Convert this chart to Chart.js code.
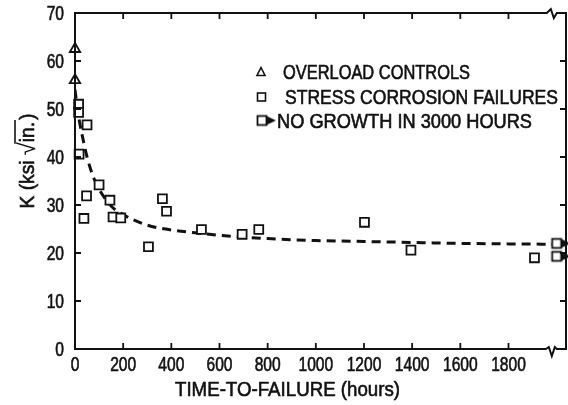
<!DOCTYPE html>
<html>
<head>
<meta charset="utf-8">
<script src="https://cdn.jsdelivr.net/npm/chart.js@4/dist/chart.umd.min.js"></script>
<style>
  html, body { margin: 0; padding: 0; background: #fff; }
  #wrap { width: 568px; height: 405px; }
</style>
</head>
<body>
<div id="wrap"><canvas id="c" width="568" height="405"></canvas></div>
<script>
const FONT = '"Liberation Sans", Arial, sans-serif';
const FONT_PX = 19.5;
const INK = '#111';

// Overload control specimens: time (h), K (ksi sqrt(in.))
const OVERLOAD_T = [0, 0];
const OVERLOAD_K = [62.5, 56];

// Stress corrosion failures
const FAIL_T = [15, 15, 17, 50, 37, 48, 100, 145, 158, 190, 305, 363, 380, 525, 694, 763, 1202, 1395, 1908];
const FAIL_K = [51, 49.3, 40.6, 46.7, 27.2, 31.9, 34.2, 31.0, 27.5, 27.3, 21.3, 31.3, 28.7, 24.9, 23.9, 24.9, 26.4, 20.6, 19.0];

// Specimens with no growth after 3000 h, plotted just past the axis break
const RUNOUT_POS = 2000;
const NOGROWTH_K = [22, 19.3];

// Dashed trend curve
const FIT_T = [0, 5, 10, 20, 30, 50, 75, 100, 150, 200, 300, 400, 500, 600, 800, 1000, 1200, 1400, 1600, 1800, 2043];
const FIT_K = [54, 52, 50, 47, 44.5, 40, 36, 33.3, 29.8, 28.0, 25.8, 24.8, 24.2, 23.7, 23.0, 22.6, 22.4, 22.2, 22.0, 21.9, 21.8];

const X_TICKS = [0, 200, 400, 600, 800, 1000, 1200, 1400, 1600, 1800];
const Y_TICKS = [0, 10, 20, 30, 40, 50, 60, 70];
const X_MAX = 2043;
const AXIS_BREAK = 1980;

const LEGEND_LABELS = ['OVERLOAD CONTROLS', 'STRESS CORROSION FAILURES', 'NO GROWTH IN 3000 HOURS'];
const X_TITLE = 'TIME-TO-FAILURE (hours)';

const pts = (xs, ys) => ys.map((y, i) => ({ x: xs[i], y }));

// square with a filled arrowhead: "no growth" marker
function runoutMarker() {
  const c = document.createElement('canvas');
  c.width = 30; c.height = 14;
  const g = c.getContext('2d');
  g.fillStyle = '#fff';
  g.fillRect(10.5, 2.5, 9, 9);
  g.strokeStyle = INK; g.lineWidth = 1.8;
  g.strokeRect(10.5, 2.5, 9, 9);
  g.fillStyle = INK;
  g.beginPath();
  g.moveTo(19, 2.2); g.lineTo(29, 7); g.lineTo(19, 11.8); g.closePath();
  g.fill();
  return c;
}
const RUNOUT_IMG = runoutMarker();

// condensed, slightly heavy lettering: text squeezed horizontally
const TICK_SX = 0.8;
function drawScaled(ctx, text, x, y, sx, align) {
  ctx.save();
  ctx.translate(x, y);
  ctx.scale(sx, 1);
  ctx.textAlign = align;
  ctx.fillText(text, 0, 0);
  ctx.lineWidth = 0.6;
  ctx.strokeText(text, 0, 0);
  ctx.restore();
}
function drawFit(ctx, text, left, y, width) {
  const w = ctx.measureText(text).width;
  drawScaled(ctx, text, left, y, width / w, 'left');
}

const framePlugin = {
  id: 'frame',
  afterDatasetsDraw(chart) {
    const { ctx, chartArea: a, scales: { x, y } } = chart;
    ctx.save();
    ctx.strokeStyle = INK;
    ctx.lineWidth = 2;
    const bx = x.getPixelForValue(AXIS_BREAK);
    ctx.beginPath();
    // left and right axes
    ctx.moveTo(a.left, a.top - 1); ctx.lineTo(a.left, a.bottom + 1);
    ctx.moveTo(a.right - 1, a.top); ctx.lineTo(a.right - 1, a.bottom);
    // top border with break
    ctx.moveTo(a.left, a.top); ctx.lineTo(bx - 5, a.top);
    ctx.lineTo(bx - 1, a.top - 4); ctx.lineTo(bx + 2, a.top + 5); ctx.lineTo(bx + 5, a.top);
    ctx.lineTo(a.right, a.top);
    // bottom axis with break
    ctx.moveTo(a.left, a.bottom); ctx.lineTo(bx - 6, a.bottom);
    ctx.lineTo(bx - 3, a.bottom - 2); ctx.lineTo(bx, a.bottom + 7); ctx.lineTo(bx + 3, a.bottom - 2);
    ctx.lineTo(bx + 5, a.bottom);
    ctx.lineTo(a.right, a.bottom);
    ctx.stroke();

    // inward tick marks
    ctx.lineWidth = 1.8;
    ctx.beginPath();
    X_TICKS.forEach(v => {
      const px = x.getPixelForValue(v);
      if (v > 0) {
        ctx.moveTo(px, a.bottom); ctx.lineTo(px, a.bottom - 6);
        ctx.moveTo(px, a.top); ctx.lineTo(px, a.top + 6);
      }
    });
    Y_TICKS.forEach(v => {
      const py = y.getPixelForValue(v);
      if (v > 0 && v < 70) {
        ctx.moveTo(a.left, py); ctx.lineTo(a.left + 6, py);
        ctx.moveTo(a.right - 1, py); ctx.lineTo(a.right - 7, py);
      }
    });
    ctx.stroke();
    ctx.restore();
  },
  afterDraw(chart) {
    const { ctx, chartArea: a, scales: { x, y } } = chart;
    ctx.save();
    ctx.fillStyle = INK;
    ctx.strokeStyle = INK;
    ctx.font = FONT_PX + 'px ' + FONT;
    ctx.textBaseline = 'alphabetic';

    // tick labels
    X_TICKS.forEach(v => drawScaled(ctx, String(v), x.getPixelForValue(v), a.bottom + 22, TICK_SX, 'center'));
    Y_TICKS.forEach(v => drawScaled(ctx, String(v), a.left - 11, y.getPixelForValue(v) + 7, TICK_SX, 'right'));

    // x-axis title
    drawFit(ctx, X_TITLE, 175, 396, 225);

    // y-axis title with radical over "in."
    ctx.save();
    ctx.translate(33.5, 161);
    ctx.rotate(-Math.PI / 2);
    const p1 = 'K (ksi ', p2 = '\u221A', p3 = 'in.', p4 = ')';
    const w1 = ctx.measureText(p1).width;
    ctx.font = '24px ' + FONT;
    const w2 = ctx.measureText(p2).width;
    ctx.font = FONT_PX + 'px ' + FONT;
    const w3 = ctx.measureText(p3).width + 2;
    const w4 = ctx.measureText(p4).width;
    const total = w1 + w2 + w3 + w4;
    ctx.scale(95 / total, 1);
    ctx.textAlign = 'left';
    ctx.lineWidth = 0.6;
    let cx = -total / 2;
    ctx.fillText(p1, cx, 0); ctx.strokeText(p1, cx, 0); cx += w1;
    ctx.font = '24px ' + FONT;
    ctx.fillText(p2, cx, 1);
    ctx.font = FONT_PX + 'px ' + FONT;
    ctx.lineWidth = 1.6;
    ctx.beginPath();
    ctx.moveTo(cx + w2 - 1.5, -18.5); ctx.lineTo(cx + w2 + w3, -18.5);
    ctx.stroke();
    cx += w2;
    ctx.lineWidth = 0.6;
    ctx.fillText(p3, cx, 0); ctx.strokeText(p3, cx, 0); cx += w3;
    ctx.fillText(p4, cx, 0); ctx.strokeText(p4, cx, 0);
    ctx.restore();

    // legend
    const rows = [72, 97, 120.5];
    ctx.lineWidth = 1.6;
    ctx.beginPath();
    ctx.moveTo(261, rows[0] - 4.5); ctx.lineTo(265, rows[0] + 3.5); ctx.lineTo(257, rows[0] + 3.5); ctx.closePath();
    ctx.stroke();
    ctx.strokeRect(257.5, rows[1] - 4, 8, 8);
    ctx.drawImage(RUNOUT_IMG, 262 - 15, rows[2] - 7);
    drawFit(ctx, LEGEND_LABELS[0], 283, rows[0] + 7, 187);
    drawFit(ctx, LEGEND_LABELS[1], 285, rows[1] + 7, 273);
    drawFit(ctx, LEGEND_LABELS[2], 277, rows[2] + 7.5, 255);
    ctx.restore();
  }
};

new Chart(document.getElementById('c'), {
  type: 'scatter',
  data: {
    datasets: [
      {
        label: 'Trend',
        data: pts(FIT_T, FIT_K),
        showLine: true,
        borderColor: INK,
        borderWidth: 3,
        borderDash: [9, 6],
        pointRadius: 0,
        cubicInterpolationMode: 'monotone',
        order: 3
      },
      {
        label: LEGEND_LABELS[0],
        data: pts(OVERLOAD_T, OVERLOAD_K),
        pointStyle: 'triangle',
        pointRadius: 6,
        backgroundColor: '#fff',
        borderColor: INK,
        borderWidth: 1.8,
        clip: false,
        order: 1
      },
      {
        label: LEGEND_LABELS[1],
        data: pts(FAIL_T, FAIL_K),
        pointStyle: 'rect',
        pointRadius: 6.3,
        backgroundColor: '#fff',
        borderColor: INK,
        borderWidth: 1.8,
        clip: false,
        order: 1
      },
      {
        label: LEGEND_LABELS[2],
        data: pts(NOGROWTH_K.map(() => RUNOUT_POS), NOGROWTH_K),
        pointStyle: RUNOUT_IMG,
        clip: false,
        order: 1
      }
    ]
  },
  options: {
    responsive: false,
    animation: false,
    layout: { autoPadding: false, padding: { top: 13, right: 1, left: 0, bottom: 0 } },
    plugins: { legend: { display: false }, tooltip: { enabled: false } },
    scales: {
      x: {
        type: 'linear',
        min: 0,
        max: X_MAX,
        grid: { display: false },
        border: { display: false },
        afterBuildTicks: s => { s.ticks = X_TICKS.map(v => ({ value: v })); },
        afterFit: s => { s.height = 56; },
        ticks: { display: false }
      },
      y: {
        min: 0,
        max: 70,
        grid: { display: false },
        border: { display: false },
        afterBuildTicks: s => { s.ticks = Y_TICKS.map(v => ({ value: v })); },
        afterFit: s => { s.width = 75; },
        ticks: { display: false }
      }
    }
  },
  plugins: [framePlugin]
});
</script>
</body>
</html>
